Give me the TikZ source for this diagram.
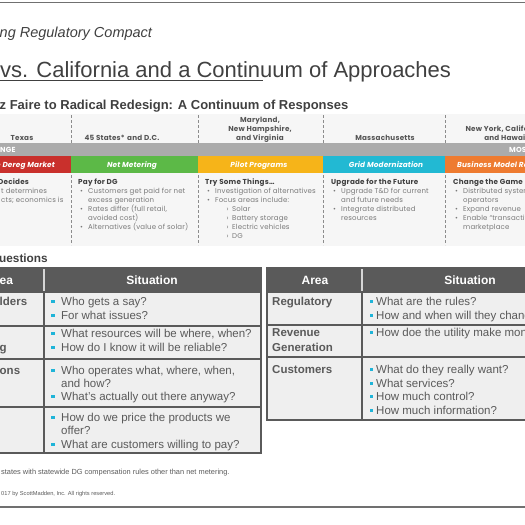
\documentclass[tikz,border=0pt]{standalone}
\usepackage{fontspec}
\setmainfont{Liberation Sans}
\newfontfamily\gfont[LetterSpace=2]{Poppins}
\newfontfamily\gbfont[LetterSpace=3]{Poppins}
\definecolor{ttlgray}{HTML}{404040}
\definecolor{rulegray}{HTML}{707070}
\definecolor{panelbg}{HTML}{F6F6F6}
\definecolor{dashgray}{HTML}{8C8C8C}
\definecolor{bargray}{HTML}{ABABAB}
\definecolor{cred}{HTML}{C9302C}
\definecolor{cgreen}{HTML}{5CB947}
\definecolor{cyellow}{HTML}{F6B419}
\definecolor{ccyan}{HTML}{22B9D3}
\definecolor{corange}{HTML}{EE7B30}
\definecolor{pheadc}{HTML}{555555}
\definecolor{pbody}{HTML}{7A7A7A}
\definecolor{tblhead}{HTML}{5A5A5A}
\definecolor{tblcell}{HTML}{EFEFEF}
\definecolor{tbltext}{HTML}{5A5A5A}
\definecolor{sqcyan}{HTML}{1FB4D8}
\begin{document}
\begin{tikzpicture}[x=1pt,y=-1pt,
  lw/.style={inner sep=0pt,anchor=base west},
  lc/.style={inner sep=0pt,anchor=base},
  le/.style={inner sep=0pt,anchor=base east},
  colhead/.style={lc,font=\gbfont\bfseries\fontsize{7.2}{9}\selectfont,text=pheadc},
  barlbl/.style={font=\gfont\bfseries\itshape\fontsize{7.3}{9}\selectfont,text=white},
  phd/.style={lw,font=\gbfont\bfseries\fontsize{7.2}{9}\selectfont,text=ttlgray},
  pbd/.style={lw,font=\gfont\fontsize{7}{9}\selectfont,text=pbody},
  tbl/.style={lw,font=\fontsize{11.5}{14}\selectfont,text=tbltext},
  tbllab/.style={lw,font=\bfseries\fontsize{11.5}{14}\selectfont,text=tbltext},
  tblhd/.style={lc,font=\bfseries\fontsize{12}{14}\selectfont,text=white},
  sqb/.style={rectangle,fill=sqcyan,inner sep=0pt,minimum size=3.2pt},
  gridln/.style={draw=tblhead,line width=1.5pt},
  dashln/.style={draw=dashgray,line width=0.6pt,dash pattern=on 3pt off 2pt}
]
\useasboundingbox (0,0) rectangle (525,525);
\clip (0,0) rectangle (525,525);

% top and bottom rules
\draw[rulegray,line width=1.6pt] (0,2.5) -- (525,2.5);
\draw[rulegray,line width=1.6pt] (0,507) -- (525,507);

% titles
\node[lw,font=\itshape\fontsize{14.5}{16}\selectfont,text=ttlgray] (subt) at (-0.5,37) {ng Regulatory Compact};
\node[lw,font=\fontsize{22}{26}\selectfont,text=ttlgray] (ttl) at (0,77) {vs. California and a Continuum of Approaches};
\draw[ttlgray,line width=1pt] (0,80.5) -- (263,80.5);
\node[lw,font=\bfseries\fontsize{13}{15}\selectfont,text=ttlgray] (hd1) at (-0.5,109) {z Faire to Radical Redesign: A Continuum of Responses};

% continuum panel
\fill[panelbg] (0,114) rectangle (525,246);
\foreach \xx in {71,198,323,445}{
  \draw[dashln] (\xx,115) -- (\xx,245);
}
\fill[bargray] (0,143) rectangle (525,156);
\fill[cred] (0,156) rectangle (71,173);
\fill[cgreen] (71,156) rectangle (198,173);
\fill[cyellow] (198,156) rectangle (323,173);
\fill[ccyan] (323,156) rectangle (445,173);
\fill[corange] (445,156) rectangle (525,173);

\node[colhead] (hTX) at (22,140) {Texas};
\node[colhead] (h45) at (122,140) {45 States*\,\,and D.C.};
\node[colhead] (hMD1) at (260,122) {Maryland,};
\node[colhead] (hMD2) at (260,131) {New Hampshire,};
\node[colhead] (hMD3) at (260,140) {and Virginia};
\node[colhead] (hMA) at (385,140) {Massachusetts};
\node[colhead] (hNY1) at (506,131) {New York, California,};
\node[colhead] (hNY2) at (506,140) {and Hawaii};

\node[lw,font=\gfont\bfseries\fontsize{7.3}{9}\selectfont,text=white] (least) at (0,152.5) {NGE};
\node[lw,font=\gfont\bfseries\fontsize{7.3}{9}\selectfont,text=white] (most) at (509,152.5) {MOS};

\node[le,barlbl] (bRed) at (55,167.5) {e Dereg Market};
\node[lc,barlbl] (bGreen) at (132,167.5) {Net Metering};
\node[lc,barlbl] (bYel) at (259,167.5) {Pilot Programs};
\node[lc,barlbl] (bCyan) at (386,167.5) {Grid Modernization};
\node[lc,barlbl] (bOra) at (506,167.5) {Business Model Redesign};

% column bodies
\node[phd] (c1h) at (-2,184) {Decides};
\node[pbd] (c1a) at (1,193) {t determines};
\node[pbd] (c1b) at (1,202) {cts; economics is};

\node[phd] (c2h) at (78,184) {Pay for DG};
\foreach \yy/\bb/\tt [count=\i] in {193/1/{Customers get paid for net},202/0/{excess generation},211/1/{Rates differ (full retail,},220/0/{avoided cost)},229/1/{Alternatives (value of solar)}}{
  \node[pbd] (c2t\i) at (88,\yy) {\tt};
  \ifnum\bb=1 \node[pbd] (c2b\i) at (80,\yy) {•}; \fi
}

\node[phd] (c3h) at (205,184) {Try Some Things…};
\foreach \yy/\tt [count=\i] in {193/{Investigation of alternatives},202/{Focus areas include:}}{
  \node[pbd] (c3t\i) at (215,\yy) {\tt};
  \node[pbd] (c3b\i) at (207,\yy) {•};
}
\foreach \yy/\tt [count=\i] in {211/{Solar},220/{Battery storage},229/{Electric vehicles},238/{DG}}{
  \node[pbd] (c3s\i) at (232,\yy) {\tt};
  \node[pbd] (c3a\i) at (226.5,\yy) {›};
}

\node[phd] (c4h) at (331,184) {Upgrade for the Future};
\foreach \yy/\bb/\tt [count=\i] in {193/1/{Upgrade T\&D for current},202/0/{and future needs},211/1/{Integrate distributed},220/0/{resources}}{
  \node[pbd] (c4t\i) at (341,\yy) {\tt};
  \ifnum\bb=1 \node[pbd] (c4b\i) at (333,\yy) {•}; \fi
}

\node[phd] (c5h) at (453,184) {Change the Game};
\foreach \yy/\bb/\tt [count=\i] in {193/1/{Distributed system},202/0/{operators},211/1/{Expand revenue},220/1/{Enable “transactive”},229/0/{marketplace}}{
  \node[pbd] (c5t\i) at (463,\yy) {\tt};
  \ifnum\bb=1 \node[pbd] (c5b\i) at (455,\yy) {•}; \fi
}

% questions heading
\node[lw,font=\bfseries\fontsize{11.8}{15}\selectfont,text=ttlgray] (qh) at (-1,262) {uestions};

% left table
\fill[tblhead] (-50,268) rectangle (261,292);
\fill[tblcell] (-50,292) rectangle (261,453);
\draw[white!75!tblhead,line width=1.2pt] (44,269) -- (44,291);
\draw[gridln] (-50,268) rectangle (261,453);
\foreach \yy in {292,326,359,407}{ \draw[gridln] (-50,\yy) -- (261,\yy); }
\draw[gridln] (44,292) -- (44,453);
\node[lw,font=\bfseries\fontsize{12}{14}\selectfont,text=white] (lA) at (-0.5,284) {ea};
\node[tblhd] (lS) at (152,284) {Situation};
\node[tbllab] (lr1) at (-0.5,305) {lders};
\node[tbllab] (lr2) at (-0.5,351) {g};
\node[tbllab] (lr3) at (-0.5,374) {ons};
\foreach \yy/\bb/\tt [count=\i] in {305/1/{Who gets a say?},319/1/{For what issues?},337/1/{What resources will be where, when?},351/1/{How do I know it will be reliable?},374/1/{Who operates what, where, when,},387/0/{and how?},400/1/{What’s actually out there anyway?},421/1/{How do we price the products we},434/0/{offer?},448/1/{What are customers willing to pay?}}{
  \node[tbl] (lt\i) at (61,\yy) {\tt};
  \ifnum\bb=1 \node[sqb] (lq\i) at (53,\yy-3.6) {}; \fi
}

% right table
\fill[tblhead] (267,268) rectangle (600,292);
\fill[tblcell] (267,292) rectangle (600,420);
\draw[white!75!tblhead,line width=1.2pt] (362,269) -- (362,291);
\draw[gridln] (267,268) rectangle (600,420);
\foreach \yy in {292,325,357}{ \draw[gridln] (267,\yy) -- (600,\yy); }
\draw[gridln] (362,292) -- (362,420);
\node[tblhd] (rA) at (315,284) {Area};
\node[tblhd] (rS) at (470,284) {Situation};
\node[tbllab] (rr1) at (272,305) {Regulatory};
\node[tbllab] (rr2a) at (272,336) {Revenue};
\node[tbllab] (rr2b) at (272,351) {Generation};
\node[tbllab] (rr3) at (272,373) {Customers};
\foreach \yy/\tt [count=\i] in {305/{What are the rules?},319/{How and when will they change?},336/{How doe the utility make money?},373/{What do they really want?},387/{What services?},400/{How much control?},414/{How much information?}}{
  \node[tbl] (rt\i) at (376,\yy) {\tt};
  \node[sqb] (rq\i) at (371.5,\yy-3.6) {};
}

% footnotes
\node[lw,font=\fontsize{7.4}{8}\selectfont,text=tbltext] (fn) at (1,474) {states with statewide DG compensation rules other than net metering.};
\node[lw,font=\fontsize{5.7}{6}\selectfont,text=tbltext] (cp) at (1,495) {017 by ScottMadden, Inc. All rights reserved.};
\end{tikzpicture}
\end{document}
